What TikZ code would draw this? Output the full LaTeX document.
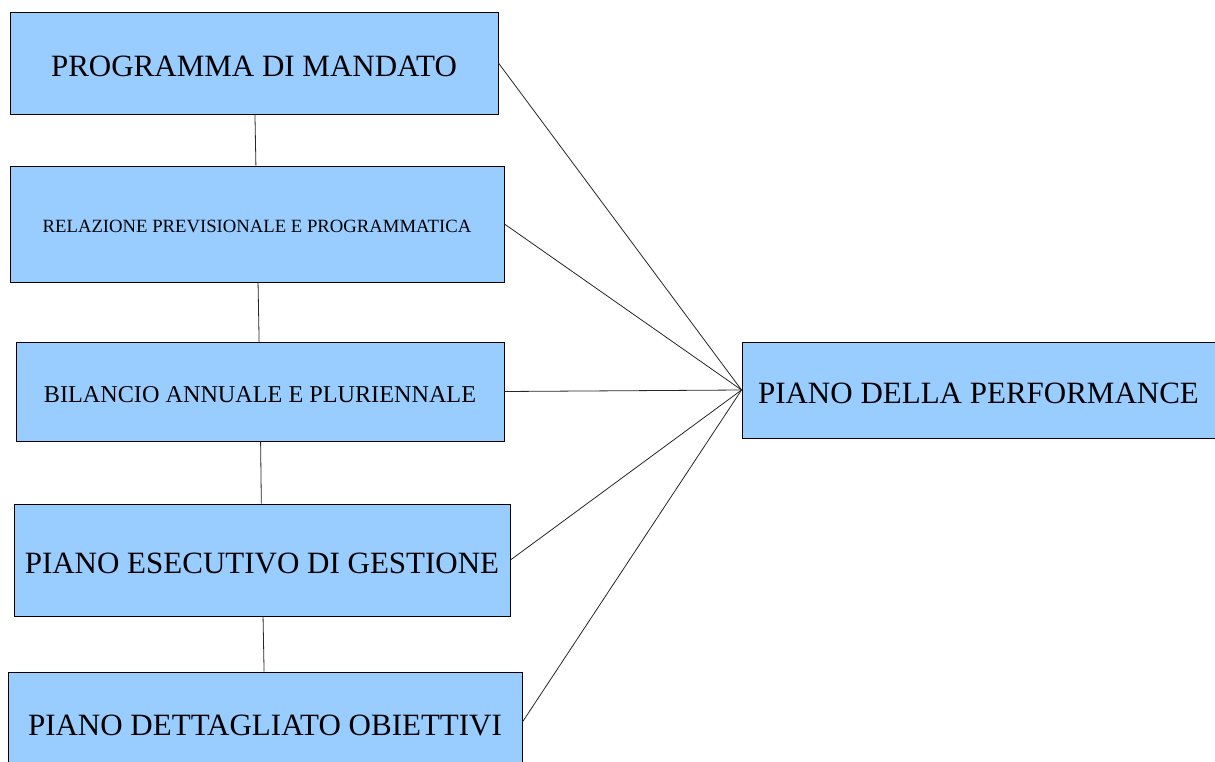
\documentclass[tikz,border=0pt]{standalone}
\usepackage{fontspec}
\setmainfont{Liberation Serif}
\usepackage{tikz}
\usetikzlibrary{positioning}
\definecolor{boxblue}{HTML}{99CCFF}
\tikzstyle{block} = [draw=black, fill=boxblue, rectangle, line width=0.9pt,
    inner sep=0pt, text height=27pt, font=\fontsize{31}{36}\selectfont]
\tikzstyle{link} = [draw=black!85, line width=0.8pt]

\begin{document}
\begin{tikzpicture}[x=1pt, y=-1pt]
	  \useasboundingbox (0,0) rectangle (1215,762);
	  \clip (0,0) rectangle (1215,762);
	  \node [block, minimum width=488pt, minimum height=102pt] (mandato) at (254,63) {PROGRAMMA DI MANDATO};
	  \node [block, minimum width=494pt, minimum height=116pt, text height=18pt, font=\fontsize{18.7}{22}\selectfont] (rpp) at (257,224) {RELAZIONE PREVISIONALE E PROGRAMMATICA};
	  \node [block, minimum width=488pt, minimum height=99pt, text height=23pt, font=\fontsize{24.2}{28}\selectfont] (bilancio) at (260,391.5) {BILANCIO ANNUALE E PLURIENNALE};
	  \node [block, minimum width=496pt, minimum height=112pt] (peg) at (262,560) {PIANO ESECUTIVO DI GESTIONE};
	  \node [block, minimum width=514pt, minimum height=100pt] (pdo) at (265,722) {PIANO DETTAGLIATO OBIETTIVI};
	  \node [block, minimum width=473pt, minimum height=96pt] (performance) at (978.5,390) {PIANO DELLA PERFORMANCE};
	  % catena verticale
	  \draw [link] (mandato) -- (rpp);
	  \draw [link] (rpp) -- (bilancio);
	  \draw [link] (bilancio) -- (peg);
	  \draw [link] (peg) -- (pdo);
	  % verso il piano della performance
	  \foreach \src in {mandato,rpp,bilancio,peg,pdo}
	    \draw [link] (\src.east) -- (performance.west);
	\end{tikzpicture}
\end{document}
